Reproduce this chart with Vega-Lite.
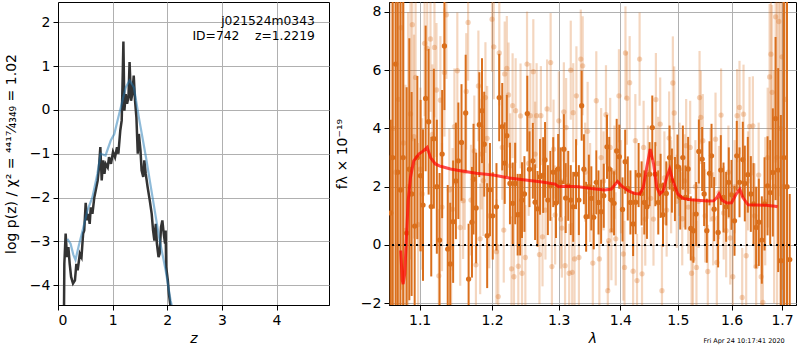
{
"$schema": "https://vega.github.io/schema/vega-lite/v6.json",
"autosize": {"type": "pad"},
"padding": {"left": 3, "top": 1, "right": 0, "bottom": 0},
"background": "white",
"spacing": 4,
"config": {
 "font": "DejaVu Sans",
 "view": {"stroke": "black", "strokeWidth": 1},
 "axis": {"gridColor": "#b0b0b0", "gridWidth": 1, "gridOpacity": 1, "domainColor": "black", "tickColor": "black", "tickSize": 5, "labelFontSize": 14, "titleFontSize": 14, "labelFont": "DejaVu Sans", "titleFont": "DejaVu Sans", "labelColor": "black", "titleColor": "black", "titleFontWeight": "normal", "labelPadding": 3}
},
"datasets": {
 "pz": [
  {"z":0.11,"p":-4.5},{"z":0.116,"p":-3.51},{"z":0.14,"p":-2.82},{"z":0.165,"p":-3.36},{"z":0.19,"p":-3.13},{"z":0.214,"p":-3.51},{"z":0.24,"p":-3.81},{"z":0.275,"p":-3.96},{"z":0.31,"p":-3.89},{"z":0.336,"p":-3.51},{"z":0.36,"p":-3.66},{"z":0.40,"p":-3.28},{"z":0.43,"p":-3.36},{"z":0.46,"p":-2.82},{"z":0.48,"p":-2.75},{"z":0.507,"p":-2.12},{"z":0.53,"p":-2.52},{"z":0.555,"p":-2.37},{"z":0.58,"p":-2.60},{"z":0.60,"p":-2.22},{"z":0.63,"p":-2.37},{"z":0.665,"p":-1.99},{"z":0.69,"p":-1.84},{"z":0.726,"p":-1.61},{"z":0.75,"p":-1.31},{"z":0.775,"p":-0.85},{"z":0.80,"p":-1.61},{"z":0.824,"p":-1.15},{"z":0.85,"p":-1.46},{"z":0.873,"p":-1.23},{"z":0.91,"p":-1.31},{"z":0.934,"p":-1.08},{"z":0.97,"p":-1.23},{"z":1.007,"p":-0.96},{"z":1.044,"p":-1.08},{"z":1.08,"p":-0.85},{"z":1.105,"p":-1.0},{"z":1.14,"p":-0.47},{"z":1.166,"p":-0.24},{"z":1.18,"p":0.52},{"z":1.197,"p":1.56},{"z":1.215,"p":-0.015},{"z":1.24,"p":0.36},{"z":1.264,"p":0.14},{"z":1.29,"p":0.29},{"z":1.31,"p":1.09},{"z":1.337,"p":0.21},{"z":1.36,"p":0.36},{"z":1.386,"p":0.78},{"z":1.41,"p":0.21},{"z":1.435,"p":-0.17},{"z":1.46,"p":-1.0},{"z":1.48,"p":-0.55},{"z":1.51,"p":-0.93},{"z":1.53,"p":-1.38},{"z":1.56,"p":-1.53},{"z":1.58,"p":-1.15},{"z":1.606,"p":-1.46},{"z":1.64,"p":-1.76},{"z":1.68,"p":-2.07},{"z":1.715,"p":-2.37},{"z":1.74,"p":-2.75},{"z":1.764,"p":-2.98},{"z":1.79,"p":-2.60},{"z":1.81,"p":-3.05},{"z":1.84,"p":-3.36},{"z":1.86,"p":-3.28},{"z":1.886,"p":-2.67},{"z":1.91,"p":-2.52},{"z":1.935,"p":-2.82},{"z":1.96,"p":-3.05},{"z":1.97,"p":-2.75},{"z":1.98,"p":-3.58},{"z":2.01,"p":-3.89},{"z":2.03,"p":-4.19},{"z":2.06,"p":-4.5}
 ],
 "pzs": [
  {"z":0.17,"p":-2.94},{"z":0.23,"p":-3.05},{"z":0.28,"p":-3.3},{"z":0.32,"p":-3.42},{"z":0.38,"p":-3.1},{"z":0.45,"p":-2.75},{"z":0.54,"p":-2.29},{"z":0.63,"p":-1.99},{"z":0.72,"p":-1.46},{"z":0.78,"p":-1.0},{"z":0.87,"p":-1.04},{"z":0.965,"p":-0.7},{"z":1.03,"p":-0.55},{"z":1.12,"p":-0.09},{"z":1.24,"p":0.51},{"z":1.31,"p":0.67},{"z":1.39,"p":0.51},{"z":1.48,"p":-0.17},{"z":1.61,"p":-1.08},{"z":1.73,"p":-1.99},{"z":1.85,"p":-2.9},{"z":1.97,"p":-3.66},{"z":2.06,"p":-4.34},{"z":2.09,"p":-4.5}
 ],
 "model": [
  {"l":1.0753,"f":-0.19},{"l":1.0774,"f":-1.22},{"l":1.0785,"f":-1.34},{"l":1.0805,"f":-0.99},{"l":1.083,"f":0.38},{"l":1.085,"f":1.52},{"l":1.088,"f":2.32},{"l":1.0923,"f":2.89},{"l":1.099,"f":3.12},{"l":1.105,"f":3.23},{"l":1.110,"f":3.35},{"l":1.1145,"f":3.0},{"l":1.121,"f":2.78},{"l":1.128,"f":2.70},{"l":1.1415,"f":2.61},{"l":1.155,"f":2.55},{"l":1.1775,"f":2.46},{"l":1.2015,"f":2.40},{"l":1.225,"f":2.30},{"l":1.249,"f":2.23},{"l":1.2745,"f":2.16},{"l":1.2945,"f":2.09},{"l":1.2997,"f":2.0},{"l":1.310,"f":2.02},{"l":1.331,"f":2.0},{"l":1.352,"f":1.94},{"l":1.374,"f":1.89},{"l":1.385,"f":1.92},{"l":1.3953,"f":2.18},{"l":1.402,"f":2.03},{"l":1.413,"f":1.86},{"l":1.4245,"f":1.77},{"l":1.433,"f":1.75},{"l":1.439,"f":1.98},{"l":1.445,"f":2.66},{"l":1.451,"f":3.29},{"l":1.457,"f":2.78},{"l":1.4625,"f":1.98},{"l":1.468,"f":1.75},{"l":1.474,"f":1.86},{"l":1.480,"f":2.32},{"l":1.4855,"f":2.61},{"l":1.491,"f":2.21},{"l":1.500,"f":1.75},{"l":1.509,"f":1.6},{"l":1.524,"f":1.55},{"l":1.554,"f":1.51},{"l":1.566,"f":1.52},{"l":1.572,"f":1.63},{"l":1.576,"f":1.75},{"l":1.5815,"f":1.54},{"l":1.591,"f":1.44},{"l":1.600,"f":1.45},{"l":1.609,"f":1.75},{"l":1.616,"f":1.91},{"l":1.622,"f":1.63},{"l":1.632,"f":1.38},{"l":1.647,"f":1.37},{"l":1.667,"f":1.36},{"l":1.686,"f":1.33},{"l":1.691,"f":1.31}
 ],
 "dark": [
  {"l":1.0625,"f":1.1,"e":3.2},{"l":1.065,"f":3.0,"e":9},{"l":1.0688,"f":6.21,"e":9},{"l":1.0715,"f":2.5,"e":9},{"l":1.075,"f":1.89,"e":8},{"l":1.0785,"f":3.0,"e":7},{"l":1.083,"f":0.41,"e":5},{"l":1.0865,"f":2.6,"e":4.5},{"l":1.0895,"f":1.75,"e":3.5},{"l":1.0935,"f":0.65,"e":3},{"l":1.097,"f":3.0,"e":2.8},{"l":1.1013,"f":2.38,"e":2.6},{"l":1.1045,"f":1.37,"e":2.6},{"l":1.108,"f":5.03,"e":2.5},{"l":1.112,"f":4.23,"e":2.5},{"l":1.1155,"f":1.32,"e":2.4},{"l":1.119,"f":3.65,"e":2.4},{"l":1.123,"f":2.0,"e":2.3},{"l":1.1267,"f":0.17,"e":2.3},{"l":1.1302,"f":3.12,"e":2.2},{"l":1.1333,"f":6.83,"e":2.2},{"l":1.1378,"f":-0.14,"e":2.2},{"l":1.1412,"f":-0.65,"e":2.1},{"l":1.1452,"f":0.80,"e":2.1},{"l":1.149,"f":2.2,"e":2.0},{"l":1.1524,"f":2.89,"e":2.0},{"l":1.1568,"f":3.52,"e":2.0},{"l":1.1626,"f":4.53,"e":2.0},{"l":1.1667,"f":-1.17,"e":1.9},{"l":1.1714,"f":0.78,"e":1.9},{"l":1.1736,"f":2.26,"e":1.9},{"l":1.1773,"f":1.27,"e":1.9},{"l":1.1818,"f":4.13,"e":1.8},{"l":1.1856,"f":4.61,"e":1.8},{"l":1.1888,"f":3.46,"e":1.8},{"l":1.193,"f":0.32,"e":1.8},{"l":1.197,"f":1.9,"e":1.6},{"l":1.201,"f":1.0,"e":1.5},{"l":1.2064,"f":1.31,"e":1.5},{"l":1.2104,"f":5.06,"e":1.5},{"l":1.2148,"f":4.06,"e":1.5},{"l":1.2184,"f":2.81,"e":1.4},{"l":1.2215,"f":3.75,"e":1.4},{"l":1.2261,"f":2.11,"e":1.4},{"l":1.2302,"f":1.43,"e":1.4},{"l":1.2338,"f":2.11,"e":1.4},{"l":1.2375,"f":1.04,"e":1.4},{"l":1.2412,"f":1.04,"e":1.4},{"l":1.244,"f":1.54,"e":1.3},{"l":1.2476,"f":1.75,"e":1.3},{"l":1.2519,"f":4.51,"e":1.3},{"l":1.2552,"f":2.6,"e":1.3},{"l":1.2603,"f":2.89,"e":1.3},{"l":1.2637,"f":1.47,"e":1.3},{"l":1.2674,"f":1.24,"e":1.3},{"l":1.2712,"f":2.34,"e":1.3},{"l":1.276,"f":2.40,"e":1.3},{"l":1.2789,"f":2.92,"e":1.3},{"l":1.2832,"f":1.54,"e":1.2},{"l":1.2871,"f":2.03,"e":1.2},{"l":1.2915,"f":2.5,"e":1.2},{"l":1.2958,"f":1.44,"e":1.2},{"l":1.2992,"f":2.61,"e":1.2},{"l":1.3031,"f":2.15,"e":1.2},{"l":1.3081,"f":3.29,"e":1.2},{"l":1.311,"f":1.61,"e":1.2},{"l":1.315,"f":2.03,"e":1.2},{"l":1.319,"f":1.54,"e":1.2},{"l":1.3229,"f":1.31,"e":1.2},{"l":1.3274,"f":2.43,"e":1.2},{"l":1.3319,"f":1.54,"e":1.2},{"l":1.3364,"f":4.78,"e":1.2},{"l":1.34,"f":2.6,"e":1.2},{"l":1.3436,"f":0.97,"e":1.2},{"l":1.348,"f":2.0,"e":1.1},{"l":1.352,"f":1.6,"e":1.1},{"l":1.3559,"f":0.95,"e":1.1},{"l":1.3601,"f":2.15,"e":1.1},{"l":1.3637,"f":1.46,"e":1.1},{"l":1.368,"f":1.14,"e":1.1},{"l":1.3723,"f":1.69,"e":1.1},{"l":1.3777,"f":3.37,"e":1.1},{"l":1.3814,"f":2.61,"e":1.1},{"l":1.3852,"f":1.54,"e":1.1},{"l":1.3894,"f":1.43,"e":1.1},{"l":1.3938,"f":3.23,"e":1.1},{"l":1.3982,"f":3.03,"e":1.1},{"l":1.4036,"f":1.22,"e":1.1},{"l":1.4081,"f":2.86,"e":1.1},{"l":1.4125,"f":1.94,"e":1.1},{"l":1.417,"f":1.46,"e":1.1},{"l":1.4216,"f":0.72,"e":1.1},{"l":1.4259,"f":1.47,"e":1.1},{"l":1.431,"f":2.40,"e":1.1},{"l":1.4362,"f":1.77,"e":1.1},{"l":1.4408,"f":1.46,"e":1.1},{"l":1.4454,"f":1.31,"e":1.1},{"l":1.45,"f":2.43,"e":1.1},{"l":1.4547,"f":4.03,"e":1.1},{"l":1.46,"f":2.43,"e":1.1},{"l":1.4652,"f":1.46,"e":1.1},{"l":1.4693,"f":2.03,"e":1.1},{"l":1.4735,"f":1.04,"e":1.1},{"l":1.4794,"f":1.77,"e":1.1},{"l":1.4852,"f":3.0,"e":1.1},{"l":1.4894,"f":2.21,"e":1.1},{"l":1.4948,"f":1.92,"e":1.1},{"l":1.4994,"f":2.69,"e":1.1},{"l":1.5043,"f":1.63,"e":1.1},{"l":1.5091,"f":3.0,"e":1.1},{"l":1.5138,"f":1.63,"e":1.1},{"l":1.5187,"f":2.61,"e":1.1},{"l":1.5236,"f":0.57,"e":1.1},{"l":1.5284,"f":0.49,"e":1.1},{"l":1.5334,"f":1.06,"e":1.1},{"l":1.5384,"f":3.21,"e":1.1},{"l":1.5445,"f":2.95,"e":1.1},{"l":1.5482,"f":1.75,"e":1.1},{"l":1.5532,"f":0.49,"e":1.1},{"l":1.5582,"f":2.46,"e":1.1},{"l":1.562,"f":3.06,"e":1.1},{"l":1.5669,"f":1.23,"e":1.1},{"l":1.5744,"f":0.43,"e":1.2},{"l":1.5795,"f":2.57,"e":1.2},{"l":1.5846,"f":1.63,"e":1.2},{"l":1.5896,"f":1.31,"e":1.2},{"l":1.5947,"f":2.15,"e":1.2},{"l":1.5999,"f":1.72,"e":1.2},{"l":1.6057,"f":0.83,"e":1.2},{"l":1.6101,"f":3.06,"e":1.2},{"l":1.6154,"f":2.15,"e":1.2},{"l":1.6218,"f":2.93,"e":1.3},{"l":1.6257,"f":2.11,"e":1.3},{"l":1.6316,"f":2.41,"e":1.3},{"l":1.6375,"f":1.75,"e":1.3},{"l":1.6428,"f":1.41,"e":1.4},{"l":1.648,"f":0.60,"e":1.4},{"l":1.6533,"f":0.78,"e":1.5},{"l":1.6593,"f":0.17,"e":1.5},{"l":1.6647,"f":1.41,"e":1.6},{"l":1.6707,"f":2.03,"e":1.7},{"l":1.676,"f":1.80,"e":1.8},{"l":1.6814,"f":2.49,"e":2.2},{"l":1.6869,"f":4.34,"e":2.8},{"l":1.6922,"f":2.57,"e":3.5},{"l":1.6977,"f":-0.54,"e":5},{"l":1.704,"f":3.0,"e":9},{"l":1.7102,"f":2.0,"e":9},{"l":1.7158,"f":-0.5,"e":2.25}
 ],
 "light": [
  {"l":1.0625,"f":3.0,"e":9},{"l":1.0655,"f":4.0,"e":9},{"l":1.069,"f":2.5,"e":9},{"l":1.0725,"f":5.0,"e":9},{"l":1.0758,"f":7.46,"e":9},{"l":1.079,"f":3.5,"e":8},{"l":1.0815,"f":0.5,"e":5},{"l":1.085,"f":2.0,"e":6},{"l":1.088,"f":4.5,"e":5},{"l":1.0904,"f":7.56,"e":4},{"l":1.0926,"f":3.72,"e":3.5},{"l":1.0947,"f":5.75,"e":3},{"l":1.098,"f":0.7,"e":2.8},{"l":1.101,"f":2.6,"e":2.8},{"l":1.1035,"f":1.75,"e":2.6},{"l":1.1066,"f":6.92,"e":2.5},{"l":1.1101,"f":6.75,"e":2.5},{"l":1.1145,"f":7.07,"e":2.5},{"l":1.117,"f":3.8,"e":2.4},{"l":1.1198,"f":6.78,"e":2.4},{"l":1.1225,"f":5.32,"e":2.3},{"l":1.1257,"f":-1.06,"e":2.3},{"l":1.1278,"f":4.97,"e":2.2},{"l":1.13,"f":1.3,"e":2.2},{"l":1.1333,"f":5.92,"e":2.2},{"l":1.136,"f":7.9,"e":2.2},{"l":1.14,"f":1.89,"e":2.1},{"l":1.1425,"f":-0.08,"e":2.1},{"l":1.1445,"f":1.23,"e":2.1},{"l":1.147,"f":4.06,"e":2.0},{"l":1.151,"f":5.98,"e":2.0},{"l":1.155,"f":0.60,"e":2.0},{"l":1.159,"f":1.52,"e":2.0},{"l":1.1613,"f":2.52,"e":2.0},{"l":1.1634,"f":5.27,"e":2.0},{"l":1.166,"f":7.64,"e":2.0},{"l":1.17,"f":1.54,"e":1.9},{"l":1.1747,"f":3.23,"e":1.9},{"l":1.177,"f":-0.68,"e":1.9},{"l":1.1805,"f":5.46,"e":1.9},{"l":1.183,"f":0.21,"e":1.9},{"l":1.185,"f":3.12,"e":1.9},{"l":1.1875,"f":2.21,"e":1.9},{"l":1.1905,"f":5.06,"e":1.9},{"l":1.193,"f":3.66,"e":1.8},{"l":1.196,"f":1.0,"e":1.8},{"l":1.2,"f":7.75,"e":1.8},{"l":1.2025,"f":6.8,"e":1.8},{"l":1.2064,"f":-0.23,"e":1.8},{"l":1.209,"f":-1.77,"e":1.8},{"l":1.2105,"f":6.59,"e":1.8},{"l":1.2148,"f":3.35,"e":1.8},{"l":1.217,"f":0.51,"e":1.8},{"l":1.2184,"f":5.87,"e":1.8},{"l":1.2215,"f":6.06,"e":1.8},{"l":1.224,"f":5.15,"e":1.8},{"l":1.2265,"f":2.72,"e":1.8},{"l":1.2284,"f":-0.82,"e":1.8},{"l":1.23,"f":4.78,"e":1.8},{"l":1.232,"f":-1.09,"e":1.8},{"l":1.2345,"f":4.61,"e":1.8},{"l":1.2385,"f":-0.73,"e":1.8},{"l":1.2418,"f":4.43,"e":1.8},{"l":1.244,"f":-0.97,"e":1.8},{"l":1.249,"f":-0.43,"e":1.8},{"l":1.2515,"f":6.21,"e":1.8},{"l":1.254,"f":2.80,"e":1.8},{"l":1.2565,"f":4.44,"e":1.8},{"l":1.261,"f":5.95,"e":1.8},{"l":1.2637,"f":3.12,"e":1.8},{"l":1.266,"f":4.44,"e":1.8},{"l":1.2703,"f":-0.33,"e":1.7},{"l":1.2725,"f":4.44,"e":1.7},{"l":1.275,"f":0.28,"e":1.7},{"l":1.2795,"f":1.2,"e":1.7},{"l":1.282,"f":4.67,"e":1.7},{"l":1.2875,"f":6.26,"e":1.7},{"l":1.2895,"f":-0.74,"e":1.7},{"l":1.292,"f":3.29,"e":1.7},{"l":1.2945,"f":1.03,"e":1.7},{"l":1.3002,"f":4.26,"e":1.7},{"l":1.303,"f":0.89,"e":1.7},{"l":1.305,"f":0.58,"e":1.7},{"l":1.3081,"f":4.57,"e":1.7},{"l":1.31,"f":-0.71,"e":1.7},{"l":1.3117,"f":4.03,"e":1.7},{"l":1.3165,"f":-0.97,"e":1.7},{"l":1.319,"f":6.0,"e":1.7},{"l":1.3213,"f":-0.94,"e":1.7},{"l":1.3229,"f":4.54,"e":1.7},{"l":1.325,"f":-0.48,"e":1.7},{"l":1.328,"f":5.12,"e":1.7},{"l":1.332,"f":-0.43,"e":1.7},{"l":1.335,"f":6.38,"e":1.7},{"l":1.338,"f":6.15,"e":1.7},{"l":1.342,"f":2.5,"e":1.7},{"l":1.346,"f":3.9,"e":1.7},{"l":1.35,"f":1.8,"e":1.7},{"l":1.3544,"f":-0.62,"e":1.7},{"l":1.3601,"f":4.95,"e":1.7},{"l":1.3651,"f":-0.48,"e":1.7},{"l":1.368,"f":3.0,"e":1.7},{"l":1.372,"f":2.2,"e":1.7},{"l":1.376,"f":4.47,"e":1.7},{"l":1.379,"f":-1.57,"e":1.7},{"l":1.3805,"f":0.15,"e":1.7},{"l":1.383,"f":3.35,"e":1.7},{"l":1.385,"f":0.49,"e":1.7},{"l":1.39,"f":2.5,"e":1.6},{"l":1.3922,"f":0.21,"e":1.6},{"l":1.3976,"f":5.12,"e":1.6},{"l":1.401,"f":2.0,"e":1.6},{"l":1.405,"f":-0.31,"e":1.6},{"l":1.407,"f":-0.77,"e":1.6},{"l":1.4086,"f":6.59,"e":1.6},{"l":1.411,"f":5.04,"e":1.6},{"l":1.4157,"f":5.57,"e":1.6},{"l":1.4216,"f":-0.9,"e":1.6},{"l":1.4254,"f":3.58,"e":1.6},{"l":1.4283,"f":-1.22,"e":1.6},{"l":1.4327,"f":6.38,"e":1.6},{"l":1.4369,"f":-0.99,"e":1.6},{"l":1.4396,"f":3.35,"e":1.6},{"l":1.4425,"f":0.89,"e":1.6},{"l":1.447,"f":2.5,"e":1.6},{"l":1.452,"f":1.6,"e":1.6},{"l":1.4568,"f":0.89,"e":1.6},{"l":1.461,"f":4.99,"e":1.6},{"l":1.465,"f":2.8,"e":1.6},{"l":1.4686,"f":4.15,"e":1.6},{"l":1.4717,"f":-1.57,"e":1.6},{"l":1.476,"f":2.3,"e":1.6},{"l":1.48,"f":1.2,"e":1.6},{"l":1.4845,"f":3.67,"e":1.6},{"l":1.488,"f":2.0,"e":1.6},{"l":1.4911,"f":5.56,"e":1.6},{"l":1.4935,"f":4.53,"e":1.6},{"l":1.498,"f":1.5,"e":1.6},{"l":1.503,"f":2.6,"e":1.6},{"l":1.508,"f":0.9,"e":1.6},{"l":1.512,"f":2.2,"e":1.6},{"l":1.5151,"f":3.41,"e":1.6},{"l":1.519,"f":1.3,"e":1.6},{"l":1.5224,"f":3.35,"e":1.6},{"l":1.525,"f":-0.97,"e":1.6},{"l":1.5275,"f":-0.48,"e":1.6},{"l":1.532,"f":2.0,"e":1.6},{"l":1.534,"f":-0.77,"e":1.6},{"l":1.538,"f":1.5,"e":1.6},{"l":1.5397,"f":5.06,"e":1.6},{"l":1.542,"f":4.38,"e":1.6},{"l":1.5457,"f":3.58,"e":1.6},{"l":1.55,"f":1.0,"e":1.6},{"l":1.555,"f":-0.91,"e":1.6},{"l":1.56,"f":2.4,"e":1.6},{"l":1.565,"f":0.9,"e":1.6},{"l":1.5695,"f":3.63,"e":1.6},{"l":1.572,"f":-0.6,"e":1.6},{"l":1.576,"f":1.8,"e":1.6},{"l":1.58,"f":4.46,"e":1.6},{"l":1.585,"f":1.1,"e":1.6},{"l":1.5896,"f":0.49,"e":1.6},{"l":1.594,"f":2.5,"e":1.6},{"l":1.5975,"f":0.24,"e":1.6},{"l":1.6024,"f":-1.09,"e":1.6},{"l":1.606,"f":2.0,"e":1.6},{"l":1.6107,"f":4.44,"e":1.6},{"l":1.6154,"f":4.72,"e":1.6},{"l":1.6206,"f":-1.8,"e":1.7},{"l":1.6232,"f":4.49,"e":1.7},{"l":1.6284,"f":-0.37,"e":1.7},{"l":1.632,"f":2.2,"e":1.7},{"l":1.635,"f":4.07,"e":1.7},{"l":1.6415,"f":4.09,"e":1.7},{"l":1.645,"f":1.0,"e":1.8},{"l":1.648,"f":-0.74,"e":1.8},{"l":1.653,"f":2.4,"e":1.8},{"l":1.658,"f":-1.09,"e":1.9},{"l":1.6614,"f":-1.97,"e":2.0},{"l":1.666,"f":1.5,"e":2.2},{"l":1.671,"f":3.0,"e":2.4},{"l":1.6748,"f":5.77,"e":2.5},{"l":1.6775,"f":6.55,"e":2.6},{"l":1.68,"f":5.24,"e":3},{"l":1.684,"f":2.0,"e":4},{"l":1.687,"f":7.83,"e":5},{"l":1.69,"f":3.0,"e":6},{"l":1.6934,"f":7.67,"e":6},{"l":1.6965,"f":4.0,"e":8},{"l":1.7,"f":6.46,"e":8},{"l":1.703,"f":2.0,"e":9},{"l":1.707,"f":5.0,"e":9}
 ]
},
"hconcat": [
 {
  "width": 271, "height": 303,
  "layer": [
   {
    "data": {"name": "pz"},
    "mark": {"type": "line", "color": "#333333", "strokeWidth": 2.5, "clip": true},
    "encoding": {
     "x": {"field": "z", "type": "quantitative", "scale": {"domain": [0, 4.96], "nice": false, "zero": false}, "axis": {"values": [0,1,2,3,4], "format": "d", "titleFontStyle": "italic", "titlePadding": 4}, "title": "z"},
     "y": {"field": "p", "type": "quantitative", "scale": {"domain": [-4.45, 2.46], "nice": false, "zero": false}, "axis": {"values": [-4,-3,-2,-1,0,1,2], "format": "d", "titlePadding": 11}, "title": "log p(z) / χ² = ⁴⁴¹⁷⁄₄₃₄₉ = 1.02"}
    }
   },
   {
    "data": {"name": "pzs"},
    "mark": {"type": "line", "color": "#1f77b4", "opacity": 0.5, "strokeWidth": 2.2, "clip": true},
    "encoding": {
     "x": {"field": "z", "type": "quantitative", "title": "z"},
     "y": {"field": "p", "type": "quantitative", "title": "log p(z) / χ² = ⁴⁴¹⁷⁄₄₃₄₉ = 1.02"}
    }
   },
   {
    "data": {"values": [{"t": "j021524m0343", "k": 2.03}, {"t": "ID=742\u00a0\u00a0\u00a0\u00a0z=1.2219", "k": 1.69}]},
    "mark": {"type": "text", "align": "right", "baseline": "middle", "fontSize": 12.3, "color": "black"},
    "encoding": {
     "x": {"datum": 4.70, "type": "quantitative"},
     "y": {"field": "k", "type": "quantitative"},
     "text": {"field": "t"}
    }
   }
  ]
 },
 {
  "width": 407, "height": 303,
  "layer": [
   {
    "data": {"name": "light"},
    "mark": {"type": "errorbar", "ticks": false, "color": "#d96d1a", "opacity": 0.28, "thickness": 2.2, "clip": true},
    "encoding": {
     "x": {"field": "l", "type": "quantitative", "scale": {"type": "log", "domain": [1.0603, 1.7288], "nice": false, "zero": false}, "axis": {"values": [1.1,1.2,1.3,1.4,1.5,1.6,1.7], "format": ".1f", "titleFontStyle": "italic", "titlePadding": 4}, "title": "λ"},
     "y": {"field": "f", "type": "quantitative", "scale": {"domain": [-2.06, 8.34], "nice": false, "zero": false}, "axis": {"values": [-2,0,2,4,6,8], "format": "d", "titlePadding": 11}, "title": "fλ × 10⁻¹⁹"},
     "yError": {"field": "e"}
    }
   },
   {
    "data": {"name": "light"},
    "mark": {"type": "circle", "color": "#d96d1a", "opacity": 0.3, "size": 28, "clip": true},
    "encoding": {
     "x": {"field": "l", "type": "quantitative", "title": "λ"},
     "y": {"field": "f", "type": "quantitative", "title": "fλ × 10⁻¹⁹"}
    }
   },
   {
    "data": {"name": "dark"},
    "mark": {"type": "errorbar", "ticks": false, "color": "#da6f1c", "opacity": 1, "thickness": 2, "clip": true},
    "encoding": {
     "x": {"field": "l", "type": "quantitative", "title": "λ"},
     "y": {"field": "f", "type": "quantitative", "title": "fλ × 10⁻¹⁹"},
     "yError": {"field": "e"}
    }
   },
   {
    "data": {"name": "dark"},
    "mark": {"type": "circle", "color": "#da6f1c", "opacity": 1, "size": 28, "clip": true},
    "encoding": {
     "x": {"field": "l", "type": "quantitative", "title": "λ"},
     "y": {"field": "f", "type": "quantitative", "title": "fλ × 10⁻¹⁹"}
    }
   },
   {
    "data": {"name": "model"},
    "mark": {"type": "line", "color": "red", "opacity": 0.7, "strokeWidth": 3, "clip": true},
    "encoding": {
     "x": {"field": "l", "type": "quantitative", "title": "λ"},
     "y": {"field": "f", "type": "quantitative", "title": "fλ × 10⁻¹⁹"}
    }
   },
   {
    "data": {"values": [{}]},
    "mark": {"type": "rule", "color": "black", "strokeWidth": 2, "strokeDash": [2, 4]},
    "encoding": {"y": {"datum": 0, "type": "quantitative"}}
   },
   {
    "data": {"values": [{"t": "Fri Apr 24 10:17:41 2020"}]},
    "mark": {"type": "text", "align": "right", "baseline": "middle", "fontSize": 6.5, "color": "black"},
    "encoding": {
     "x": {"datum": 1.7055, "type": "quantitative"},
     "y": {"datum": -3.28, "type": "quantitative"},
     "text": {"field": "t"}
    }
   }
  ]
 }
]
}
